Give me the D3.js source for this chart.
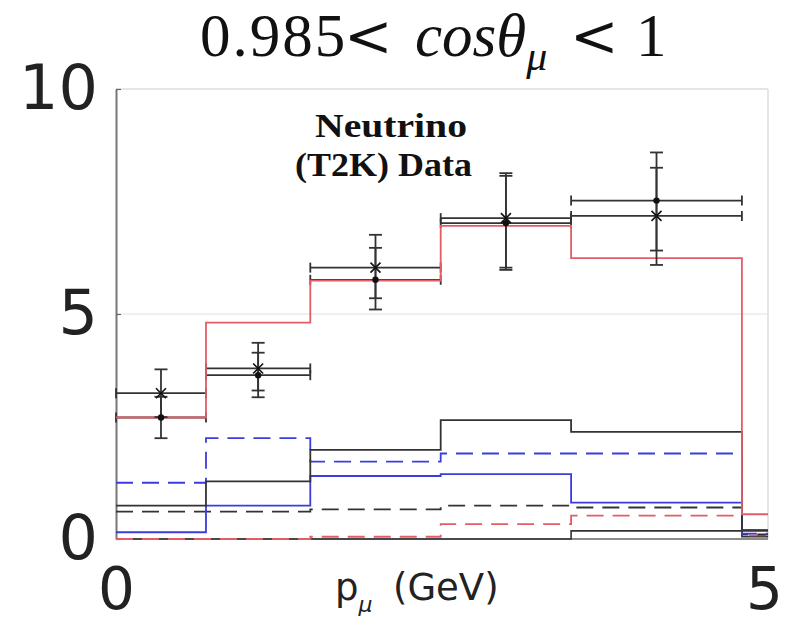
<!DOCTYPE html>
<html>
<head>
<meta charset="utf-8">
<script src="https://cdn.jsdelivr.net/npm/d3@7"></script>
<style>
  html, body { margin: 0; padding: 0; background: #fff; }
  svg { display: block; }
</style>
</head>
<body>
<svg id="chart" width="788" height="624"></svg>
<script>
// ---- data ----
const binEdges = [0, 0.69, 1.49, 2.49, 3.49, 4.8, 5.0];
const yTicks = [0, 5, 10];
const xTicks = [0, 5];

// model histograms (one value per bin)
const redSolid    = [2.70, 4.81, 5.74, 6.96, 6.24, 0.55];
const blackSolid  = [0.74, 1.28, 1.98, 2.64, 2.38, 0.18];
const blueDashed  = [1.25, 2.24, 1.72, 1.90, 1.90, 0.12];
const blueSolid   = [0.15, 0.74, 1.40, 1.44, 0.81, 0.20];
const blackDashed = [0.61, 0.61, 0.66, 0.74, 0.70, 0.10];
const redDashed   = [0.00, 0.00, 0.05, 0.33, 0.52, 0.08];
const blackThin   = [0.00, 0.00, 0.00, 0.00, 0.18, 0.05];

// data sets (first five bins)
const dataX    = [3.24, 3.79, 6.03, 7.13, 7.18];
const dataXHi  = [3.77, 4.36, 6.76, 8.13, 8.25];
const dataXLo  = [2.71, 3.30, 5.35, 6.03, 6.09];
const dataDot   = [2.70, 3.64, 5.76, 7.02, 7.52];
const dataDotHi = [3.16, 4.14, 6.47, 8.07, 8.59];
const dataDotLo = [2.24, 3.15, 5.10, 5.98, 6.41];

// ---- drawing ----
const svg = d3.select("#chart");
const x = d3.scaleLinear().domain([0, 5]).range([116, 768]);
const y = d3.scaleLinear().domain([0, 10]).range([539, 89]);

// frame & grid
svg.append("line").attr("x1", x(0)).attr("x2", x(5)).attr("y1", y(5)).attr("y2", y(5))
  .attr("stroke", "#e2e2e2").attr("stroke-width", 1.2);
svg.append("line").attr("x1", x(0)).attr("x2", x(5)).attr("y1", y(10)).attr("y2", y(10))
  .attr("stroke", "#dedede").attr("stroke-width", 1.5);
svg.append("line").attr("x1", x(5)).attr("x2", x(5)).attr("y1", y(10)).attr("y2", y(0))
  .attr("stroke", "#dedede").attr("stroke-width", 1.5);
svg.append("line").attr("x1", x(0)).attr("x2", x(5)).attr("y1", y(0)).attr("y2", y(0))
  .attr("stroke", "#666").attr("stroke-width", 1.5);

const yAxis = svg.append("g").attr("transform", `translate(${x(0)},0)`)
  .call(d3.axisLeft(y).tickValues(yTicks).tickFormat(d3.format("d"))
    .tickSizeInner(-5).tickSizeOuter(0).tickPadding(18));
yAxis.select(".domain").attr("stroke", "#777").attr("stroke-width", 2);
yAxis.selectAll(".tick line").attr("stroke", "#666").attr("stroke-width", 1.2);
yAxis.selectAll("text").attr("font-family", "DejaVu Sans").attr("font-size", 62).attr("fill", "#222");

const xAxis = svg.append("g").attr("transform", `translate(0,${y(0)})`)
  .call(d3.axisBottom(x).tickValues(xTicks).tickFormat(d3.format("d"))
    .tickSizeInner(0).tickSizeOuter(0).tickPadding(29));
xAxis.select(".domain").remove();
xAxis.selectAll("text").attr("font-family", "DejaVu Sans").attr("font-size", 58).attr("fill", "#222")
  .attr("dx", d => d === 5 ? -4 : 0);

// data horizontal bars (bin widths) with end caps
function hbars(vals, color) {
  const g = svg.append("g").attr("stroke", color).attr("stroke-width", 1.8).attr("fill", "none");
  vals.forEach((v, i) => {
    const x0 = x(binEdges[i]), x1 = x(binEdges[i + 1]), yy = y(v);
    g.append("line").attr("x1", x0).attr("x2", x1).attr("y1", yy).attr("y2", yy);
    g.append("line").attr("x1", x0).attr("x2", x0).attr("y1", yy - 5).attr("y2", yy + 5);
    g.append("line").attr("x1", x1).attr("x2", x1).attr("y1", yy - 5).attr("y2", yy + 5);
  });
}
hbars(dataDot, "#333");
hbars(dataX, "#333");

// model step histograms
function step(vals, color, dash, width) {
  const pts = vals.map((v, i) => [binEdges[i], v]);
  pts.push([binEdges[binEdges.length - 1], vals[vals.length - 1]]);
  const line = d3.line().x(d => x(d[0])).y(d => y(d[1])).curve(d3.curveStepAfter);
  svg.append("path").attr("d", line(pts)).attr("fill", "none")
    .attr("stroke", color).attr("stroke-width", width || 1.8)
    .attr("stroke-dasharray", dash || null);
}
step(blackThin, "#333", null, 1.6);
step(redDashed, "#e35d66", "17,9");
step(blackDashed, "#333", "17,9");
step(blueSolid, "#3c3cdc");
step(blueDashed, "#3c3cdc", "17,9");
step(blackSolid, "#333");
step(redSolid, "#e35d66");

// vertical error bars & markers
function vbars(vals, lo, hi) {
  const g = svg.append("g").attr("stroke", "#333").attr("stroke-width", 1.8);
  vals.forEach((v, i) => {
    const cx = x((binEdges[i] + binEdges[i + 1]) / 2);
    g.append("line").attr("x1", cx).attr("x2", cx).attr("y1", y(lo[i])).attr("y2", y(hi[i]));
    [lo[i], hi[i]].forEach(e => {
      g.append("line").attr("x1", cx - 6.5).attr("x2", cx + 6.5).attr("y1", y(e)).attr("y2", y(e));
    });
  });
}
vbars(dataDot, dataDotLo, dataDotHi);
vbars(dataX, dataXLo, dataXHi);

svg.append("g").selectAll("circle").data(dataDot).join("circle")
  .attr("cx", (d, i) => x((binEdges[i] + binEdges[i + 1]) / 2))
  .attr("cy", d => y(d)).attr("r", 3.2).attr("fill", "#111");
svg.append("g").selectAll("path").data(dataX).join("path")
  .attr("d", (d, i) => {
    const cx = x((binEdges[i] + binEdges[i + 1]) / 2), cy = y(d), s = 5;
    return `M${cx - s},${cy - s}L${cx + s},${cy + s}M${cx - s},${cy + s}L${cx + s},${cy - s}`;
  })
  .attr("stroke", "#111").attr("stroke-width", 1.6);

// annotation
const ann = svg.append("g").attr("font-family", "Liberation Serif").attr("font-weight", "bold")
  .attr("font-size", 34).attr("fill", "#111");
ann.append("text").attr("x", 315).attr("y", 137).attr("textLength", 152)
  .attr("lengthAdjust", "spacingAndGlyphs").text("Neutrino");
ann.append("text").attr("x", 295).attr("y", 176).attr("textLength", 177)
  .attr("lengthAdjust", "spacingAndGlyphs").text("(T2K) Data");

// title
const title = svg.append("text").attr("y", 56)
  .attr("font-family", "Liberation Serif").attr("font-size", 61).attr("fill", "#111");
title.append("tspan").attr("x", 200).attr("letter-spacing", 2).text("0.985");
title.append("tspan").attr("x", 344).attr("font-family", "DejaVu Serif").attr("font-size", 58)
  .attr("letter-spacing", 0).text("<");
title.append("tspan").attr("x", 415).attr("font-style", "italic").text("cosθ");
title.append("tspan").attr("font-style", "italic").attr("font-size", 42).attr("dy", 14).text("μ");
title.append("tspan").attr("x", 570).attr("dy", -14).attr("font-family", "DejaVu Serif").attr("font-size", 58).text("<");
title.append("tspan").attr("x", 636).text("1");

// x axis label
const xl = svg.append("text").attr("x", 335).attr("y", 600)
  .attr("font-family", "DejaVu Sans").attr("font-size", 37).attr("fill", "#222");
xl.append("tspan").text("p");
xl.append("tspan").attr("font-size", 22).attr("font-style", "italic").attr("dy", 12).text("μ");
xl.append("tspan").attr("x", 393).attr("dy", -12).text("(GeV)");
</script>
</body>
</html>
